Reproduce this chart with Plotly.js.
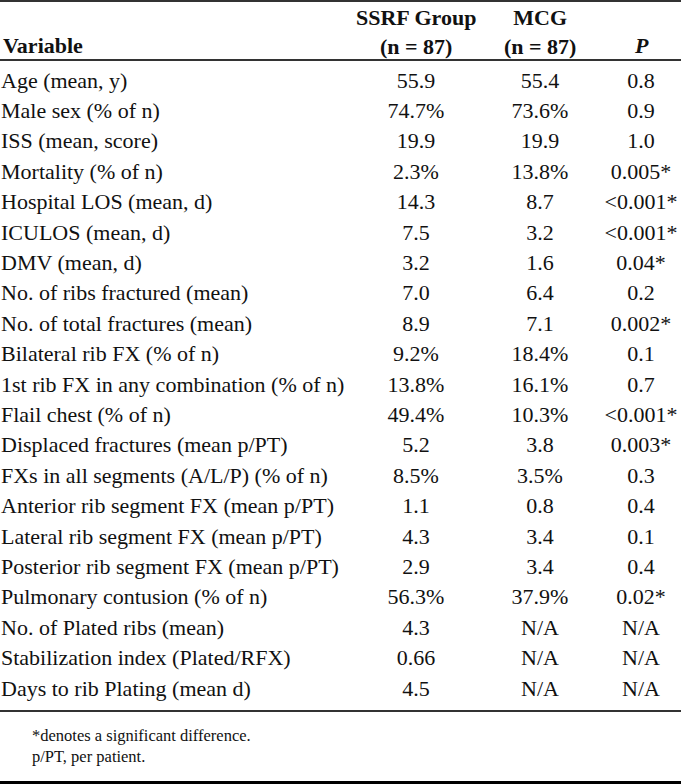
<!DOCTYPE html>
<html>
<head>
<meta charset="utf-8">
<script src="https://cdn.plot.ly/plotly-3.0.1.min.js"></script>
<style>
html,body{margin:0;padding:0;background:#fff;}
#chart{width:681px;height:784px;}
</style>
</head>
<body>
<div id="chart"></div>
<script>
// ---- data ----
const variables = [
  "Age (mean, y)",
  "Male sex (% of n)",
  "ISS (mean, score)",
  "Mortality (% of n)",
  "Hospital LOS (mean, d)",
  "ICULOS (mean, d)",
  "DMV (mean, d)",
  "No. of ribs fractured (mean)",
  "No. of total fractures (mean)",
  "Bilateral rib FX (% of n)",
  "1st rib FX in any combination (% of n)",
  "Flail chest (% of n)",
  "Displaced fractures (mean p/PT)",
  "FXs in all segments (A/L/P) (% of n)",
  "Anterior rib segment FX (mean p/PT)",
  "Lateral rib segment FX (mean p/PT)",
  "Posterior rib segment FX (mean p/PT)",
  "Pulmonary contusion (% of n)",
  "No. of Plated ribs (mean)",
  "Stabilization index (Plated/RFX)",
  "Days to rib Plating (mean d)"
];
const ssrf = ["55.9","74.7%","19.9","2.3%","14.3","7.5","3.2","7.0","8.9","9.2%","13.8%","49.4%","5.2","8.5%","1.1","4.3","2.9","56.3%","4.3","0.66","4.5"];
const mcg  = ["55.4","73.6%","19.9","13.8%","8.7","3.2","1.6","6.4","7.1","18.4%","16.1%","10.3%","3.8","3.5%","0.8","3.4","3.4","37.9%","N/A","N/A","N/A"];
const pval = ["0.8","0.9","1.0","0.005*","&lt;0.001*","&lt;0.001*","0.04*","0.2","0.002*","0.1","0.7","&lt;0.001*","0.003*","0.3","0.4","0.1","0.4","0.02*","N/A","N/A","N/A"];
const headers = ["Variable", "SSRF Group<br>(n = 87)", "MCG<br>(n = 87)", "<i>P</i>"];
const footnotes = ["*denotes a significant difference.", "p/PT, per patient."];

// ---- layout config ----
const W = 681, H = 784;
const FONT = "Liberation Serif, Times New Roman, serif";
const FS = 22;
const colX = {variable: 1, ssrf: 416, mcg: 540, p: 641};
const firstRowPx = 82, rowStep = 30.4;
const yTop = -firstRowPx / rowStep;
const yBot = (H - firstRowPx) / rowStep;
const idx = variables.map((_, i) => i);
const py = px => 1 - px / H;

function col(xpos, texts, pos) {
  return {
    type: "scatter", mode: "text",
    x: texts.map(() => xpos), y: idx, text: texts,
    textposition: pos, cliponaxis: false, hoverinfo: "skip",
    textfont: {family: FONT, size: FS, color: "#111"}
  };
}

const traces = [
  col(colX.variable, variables, "middle right"),
  col(colX.ssrf, ssrf, "middle center"),
  col(colX.mcg, mcg, "middle center"),
  col(colX.p, pval, "middle center")
];

const hdrFont = {family: FONT, size: 22, color: "#111"};
const ftFont = {family: FONT, size: 16.5, color: "#111"};
const annotations = [
  {x: colX.variable, y: py(45), xref: "x", yref: "paper", xanchor: "left", yanchor: "middle", text: "<b>" + headers[0] + "</b>", showarrow: false, font: hdrFont},
  {x: colX.ssrf, y: py(32), xref: "x", yref: "paper", xanchor: "center", yanchor: "middle", text: "<b>" + headers[1] + "</b>", showarrow: false, font: hdrFont},
  {x: colX.mcg, y: py(32), xref: "x", yref: "paper", xanchor: "center", yanchor: "middle", text: "<b>" + headers[2] + "</b>", showarrow: false, font: hdrFont},
  {x: colX.p, y: py(45), xref: "x", yref: "paper", xanchor: "center", yanchor: "middle", text: "<b>" + headers[3] + "</b>", showarrow: false, font: hdrFont},
  {x: 30, y: py(735), xref: "x", yref: "paper", xanchor: "left", yanchor: "middle", text: footnotes[0], showarrow: false, font: ftFont},
  {x: 30, y: py(756), xref: "x", yref: "paper", xanchor: "left", yanchor: "middle", text: footnotes[1], showarrow: false, font: ftFont}
];

function hline(px, w, color) {
  return {type: "line", xref: "paper", yref: "paper", x0: 0, x1: 1, y0: py(px), y1: py(px), line: {color: color, width: w}};
}
const shapes = [
  hline(1, 2, "#333"),
  hline(60, 2, "#333"),
  hline(711, 2, "#333"),
  hline(782.5, 3, "#000")
];

const layout = {
  width: W, height: H,
  margin: {l: 0, r: 0, t: 0, b: 0, pad: 0},
  paper_bgcolor: "#fff", plot_bgcolor: "#fff",
  showlegend: false,
  xaxis: {range: [0, W], visible: false, fixedrange: true},
  yaxis: {range: [yBot, yTop], visible: false, fixedrange: true},
  annotations: annotations,
  shapes: shapes
};

Plotly.newPlot("chart", traces, layout, {staticPlot: true, displayModeBar: false});
</script>
</body>
</html>
